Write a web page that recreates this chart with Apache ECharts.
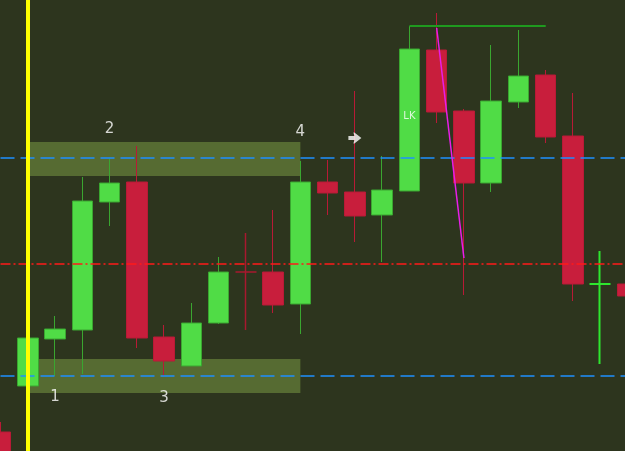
<!DOCTYPE html>
<html>
<head>
<meta charset="utf-8">
<script src="https://cdn.jsdelivr.net/npm/echarts@6/dist/echarts.min.js"></script>
<style>
  html, body { margin: 0; padding: 0; background: #2d351e; }
  #chart { width: 625px; height: 451px; }
</style>
</head>
<body>
<div id="chart"></div>
<script>
// bar times (one per candle)
const times = ["08:00", "08:15", "08:30", "08:45", "09:00", "09:15", "09:30", "09:45",
  "10:00", "10:15", "10:30", "10:45", "11:00", "11:15", "11:30", "11:45",
  "12:00", "12:15", "12:30", "12:45", "13:00", "13:15", "13:30", "13:45"];

// OHLC
const opens  = [1019, 1065, 1112, 1121, 1249, 1269, 1114, 1085, 1128, 1179, 1179, 1147,
  1269, 1259, 1236, 1260, 1401, 1340, 1268, 1349, 1376, 1315, 1167, 1167];
const closes = [991, 1113, 1122, 1250, 1268, 1113, 1090, 1128, 1179, 1179, 1146, 1269,
  1258, 1235, 1261, 1402, 1339, 1268, 1350, 1375, 1314, 1167, 1167, 1155];
const highs  = [1029, 1113, 1135, 1274, 1292, 1305, 1126, 1148, 1194, 1218, 1241, 1290,
  1291, 1360, 1295, 1425, 1438, 1342, 1406, 1421, 1381, 1358, 1200, 1167];
const lows   = [981, 1065, 1075, 1077, 1225, 1103, 1075, 1085, 1127, 1121, 1138, 1117,
  1236, 1209, 1189, 1260, 1328, 1156, 1259, 1343, 1308, 1150, 1087, 1155];

// levels
const upperLevel = 1293;
const lowerLevel = 1075;
const midLevel = 1187;

// zones [fromIdx, toIdx, top, bottom]
const zones = [[1, 11, 1309, 1275], [1, 11, 1092, 1058]];

// annotations
const labelText  = ["1", "2", "3", "4", "LK"];
const labelIdx   = [2, 4, 6, 11, 15];
const labelPrice = [1054, 1322, 1053, 1319, 1335];
const arrowIdx = 13;
const arrowPrice = 1313;

const GREEN = "#50dc46";
const RED = "#c81e3c";

const chart = echarts.init(document.getElementById("chart"));

const candles = times.map((t, i) => {
  const item = { value: [opens[i], closes[i], lows[i], highs[i]] };
  if (opens[i] === closes[i]) {
    // doji: colour by direction of the move
    item.itemStyle = i === 9
      ? { borderColorDoji: "#a8182f", borderWidth: 1.5 }
      : { borderColorDoji: "#2ee62e", borderWidth: 2 };
  }
  return item;
});

chart.setOption({
  backgroundColor: "#2d351e",
  animation: false,
  grid: { left: 0.5, top: 0, width: 627, height: 451, outerBoundsMode: "none" },
  xAxis: {
    type: "category",
    data: times,
    boundaryGap: false,
    show: false,
  },
  yAxis: {
    type: "value",
    min: 1000,
    max: 1451,
    show: false,
    splitLine: { show: false },
  },
  series: [
    {
      type: "line",
      data: [],
      z: 1,
      silent: true,
      markArea: {
        silent: true,
        itemStyle: { color: "#566b32" },
        data: zones.map((z) => [
          { xAxis: times[z[0]], yAxis: z[2] },
          { xAxis: times[z[1]], yAxis: z[3] },
        ]),
      },
    },
    {
      type: "candlestick",
      z: 3,
      barWidth: 21,
      data: candles,
      itemStyle: {
        color: GREEN,
        color0: RED,
        borderColor: "#3aa630",
        borderColor0: "#b81a36",
        borderWidth: 1,
      },
    },
    {
      type: "line",
      data: [],
      z: 5,
      silent: true,
      markLine: {
        silent: true,
        symbol: "none",
        label: { show: false },
        data: [
          { yAxis: upperLevel, lineStyle: { color: "#1e90ff", type: [14, 6], width: 1.5 } },
          { yAxis: lowerLevel, lineStyle: { color: "#1e90ff", type: [14, 6], width: 1.5 } },
          { yAxis: midLevel, lineStyle: { color: "#ff1a1a", type: [10, 3, 2, 3], width: 1.5 } },
          { xAxis: times[1], lineStyle: { color: "#ffff00", type: "solid", width: 4 } },
          [
            { coord: [times[15], highs[15]], lineStyle: { color: "#1f9a1f", type: "solid", width: 2 } },
            { coord: [times[20], highs[15]] },
          ],
          [
            { coord: [times[16], 1423], lineStyle: { color: "#e81ee8", type: "solid", width: 1.5 } },
            { coord: [times[17], 1193] },
          ],
        ],
      },
    },
    {
      type: "scatter",
      z: 6,
      symbolSize: 0,
      silent: true,
      data: labelText.map((t, i) => ({
        name: t,
        value: [times[labelIdx[i]], labelPrice[i]],
        label: t === "LK" ? { fontSize: 10 } : {},
      })),
      label: {
        show: true,
        position: "inside",
        formatter: (p) => p.name,
        color: "#ffffff",
        fontFamily: "DejaVu Sans",
        fontSize: 15,
      },
      labelLayout: { hideOverlap: false },
    },
    {
      type: "scatter",
      z: 6,
      silent: true,
      symbol: "path://M0,3.5 L6,3.5 L5,0 L6,0 L13,5.5 L6,11 L5,11 L6,7.5 L0,7.5 Z",
      symbolSize: [13, 11],
      itemStyle: { color: "#ffffff" },
      data: [[times[arrowIdx], arrowPrice]],
    },
  ],
});
</script>
</body>
</html>
